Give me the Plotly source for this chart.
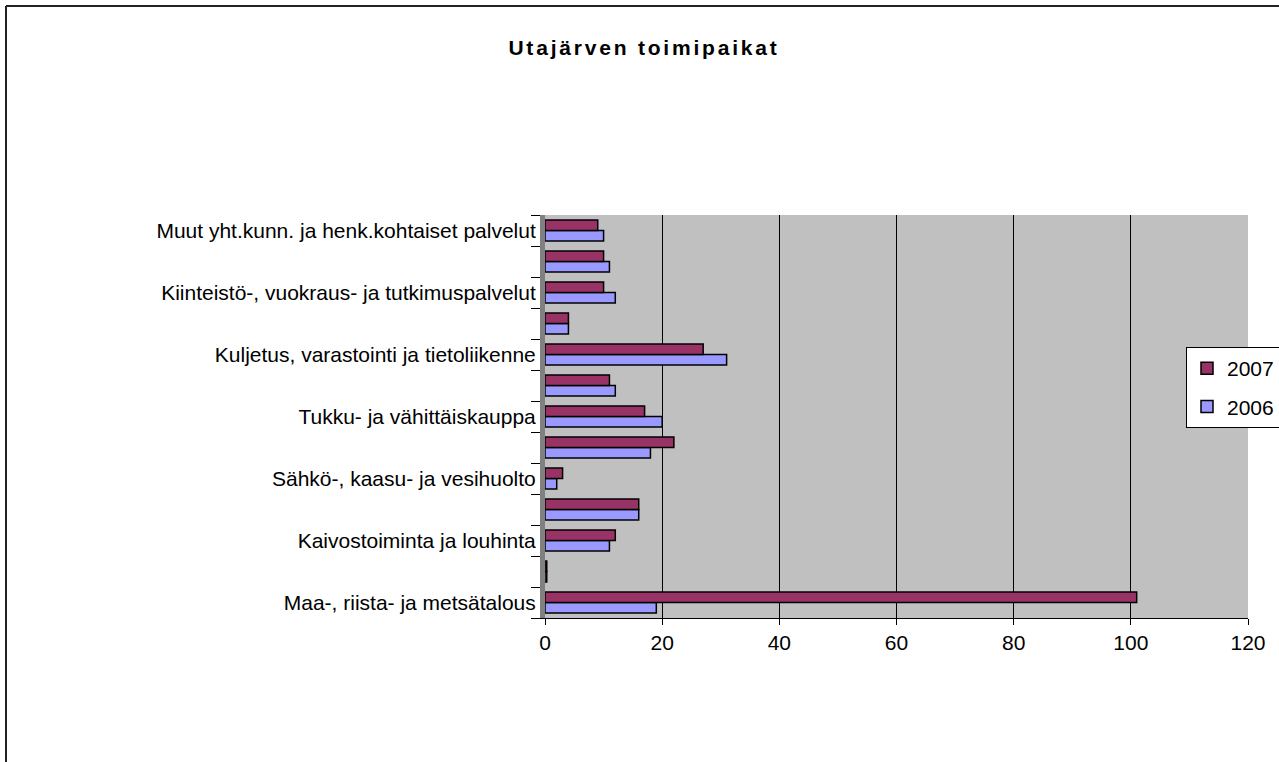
import plotly.graph_objects as go

categories = [
    "Maa-, riista- ja metsätalous",
    "Kalatalous",
    "Kaivostoiminta ja louhinta",
    "Teollisuus",
    "Sähkö-, kaasu- ja vesihuolto",
    "Rakentaminen",
    "Tukku- ja vähittäiskauppa",
    "Majoitus- ja ravitsemistoiminta",
    "Kuljetus, varastointi ja tietoliikenne",
    "Rahoitustoiminta",
    "Kiinteistö-, vuokraus- ja tutkimuspalvelut",
    "Koulutus, terveys- ja sosiaalipalvelut",
    "Muut yht.kunn. ja henk.kohtaiset palvelut",
]
# Excel shows only every other category label
tick_labels = [c if i % 2 == 0 else "" for i, c in enumerate(categories)]

values_2006 = [19, 0.3, 11, 16, 2, 18, 20, 12, 31, 4, 12, 11, 10]
values_2007 = [101, 0.3, 12, 16, 3, 22, 17, 11, 27, 4, 10, 10, 9]

x_ticks = [0, 20, 40, 60, 80, 100, 120]

FONT = "Liberation Sans, Arial, sans-serif"

W, H = 1279, 762
L, R, T, B = 545, 31, 215, 144
PW, PH = W - L - R, H - T - B

fig = go.Figure()
fig.add_trace(go.Bar(
    y=categories, x=values_2006, name="2006", orientation="h",
    legendgroup="b", legendrank=2,
    marker=dict(color="#9999FF", line=dict(color="black", width=1.5)),
))
fig.add_trace(go.Bar(
    y=categories, x=values_2007, name="2007", orientation="h",
    legendgroup="a", legendrank=1,
    marker=dict(color="#993366", line=dict(color="black", width=1.5)),
))

fig.update_layout(
    width=W, height=H,
    autosize=False,
    margin=dict(l=L, r=R, t=T, b=B, pad=0, autoexpand=False),
    paper_bgcolor="white",
    plot_bgcolor="#C0C0C0",
    barmode="group",
    bargap=0.33,
    bargroupgap=0.0,
    font=dict(family=FONT, size=21, color="black"),
    title=dict(
        text="<b>Utajärven toimipaikat</b>",
        x=644 / W, xref="container", xanchor="center",
        y=1 - 48 / H, yref="container", yanchor="middle",
        font=dict(family=FONT, size=21, color="black"),
    ),
    legend=dict(
        x=(1186 - L) / PW, xanchor="left",
        y=(H - B - 347) / PH, yanchor="top",
        bgcolor="white", bordercolor="black", borderwidth=1,
        traceorder="grouped",
        tracegroupgap=8,
        font=dict(family=FONT, size=21),
        itemwidth=30,
    ),
    showlegend=True,
)

fig.update_xaxes(
    range=[0, 120], tickvals=x_ticks, ticktext=[str(v) for v in x_ticks],
    showgrid=True, gridcolor="black", gridwidth=1,
    zeroline=False,
    showline=True, linecolor="black", linewidth=1,
    ticks="outside", ticklen=6, tickcolor="black",
    tickfont=dict(family=FONT, size=21),
    fixedrange=True, automargin=False,
)
fig.update_yaxes(
    type="category",
    tickvals=categories, ticktext=tick_labels,
    tickson="boundaries",
    showgrid=False,
    showline=True, linecolor="#808080", linewidth=5,
    ticks="outside", ticklen=9, tickcolor="black",
    tickfont=dict(family=FONT, size=21),
    fixedrange=True, automargin=False,
)

# outer chart border (left and top edges visible in the reference)
bx = (6 - L) / PW
by = (H - B - 6) / PH
fig.add_shape(type="line", xref="paper", yref="paper",
              x0=bx, x1=1.2, y0=by, y1=by,
              line=dict(color="#222222", width=2))
fig.add_shape(type="line", xref="paper", yref="paper",
              x0=bx, x1=bx, y0=-0.5, y1=by,
              line=dict(color="#222222", width=2))

post = (
    "document.body.style.margin='0';"
    "document.body.style.overflow='hidden';"
    "document.querySelectorAll('.gtitle').forEach(function(e){e.style.letterSpacing='2.8px';});"
)

fig.write_html("out.html", post_script=post,
               config={"responsive": False, "displayModeBar": False})
